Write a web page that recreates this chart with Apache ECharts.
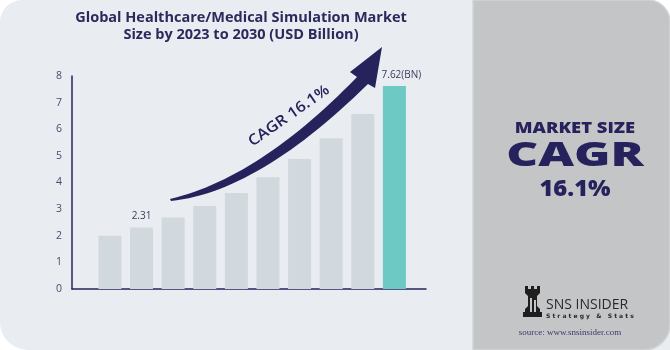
<!DOCTYPE html>
<html>
<head>
<meta charset="utf-8">
<script src="https://cdn.jsdelivr.net/npm/echarts@6/dist/echarts.min.js"></script>
<style>
html, body { margin: 0; padding: 0; background: #fff; }
#main { width: 670px; height: 350px; }
</style>
</head>
<body>
<div id="main"></div>
<script>
var years = [2021, 2022, 2023, 2024, 2025, 2026, 2027, 2028, 2029, 2030];
var sizes = [2.0, 2.31, 2.69, 3.12, 3.61, 4.2, 4.88, 5.66, 6.57, 7.62];
var barLabels = ['', '2.31', '', '', '', '', '', '', '', '7.62(BN)'];
var yTicks = [0, 1, 2, 3, 4, 5, 6, 7, 8];

var navy = '#26235c';
var font = '"Open Sans", sans-serif';

var chart = echarts.init(document.getElementById('main'));

// quadratic curve sampled into points (for the decorative arrow)
function quad(p0, c, p1, n) {
    var pts = [];
    for (var i = 0; i <= n; i++) {
        var t = i / n, a = (1 - t) * (1 - t), b = 2 * (1 - t) * t, d = t * t;
        pts.push([a * p0[0] + b * c[0] + d * p1[0], a * p0[1] + b * c[1] + d * p1[1]]);
    }
    return pts;
}
var upper = quad([170, 199], [259, 178], [357, 77], 30);
var lower = quad([368, 84], [258, 192], [171, 201], 30);
var arrowPts = upper.concat([[350, 72], [382, 47], [375, 88]], lower);

var barData = years.map(function (y, i) {
    var last = i === years.length - 1;
    return {
        value: [y, sizes[i]],
        itemStyle: { color: last ? '#6dc9c3' : '#d1d8de' },
        label: {
            show: barLabels[i] !== '',
            formatter: barLabels[i],
            offset: last ? [7, 0] : [0, 0]
        }
    };
});

var option = {
    animation: false,
    backgroundColor: 'transparent',
    title: {
        text: 'Global Healthcare/Medical Simulation Market\nSize by 2023 to 2030 (USD Billion)',
        left: 236,
        top: 4,
        textAlign: 'center',
        textStyle: {
            color: '#2b2a5c',
            fontFamily: font,
            fontWeight: 'bold',
            fontSize: 14.5,
            lineHeight: 17
        }
    },
    grid: { left: 72, right: 244, top: 76, bottom: 61 },
    xAxis: {
        type: 'value',
        min: 2019.8,
        max: 2031,
        interval: 1,
        splitLine: { show: false },
        axisTick: { show: false },
        axisLine: { show: true, lineStyle: { color: navy, width: 1.5 } },
        axisLabel: {
            color: '#4a4a6e',
            fontFamily: font,
            fontSize: 10,
            margin: 6,
            showMinLabel: false,
            showMaxLabel: false,
            formatter: function (v) {
                return years.indexOf(v) >= 0 ? String(v) : '';
            }
        }
    },
    yAxis: {
        type: 'value',
        min: yTicks[0],
        max: yTicks[yTicks.length - 1],
        interval: 1,
        splitLine: { show: false },
        axisTick: { show: false },
        axisLine: { show: true, lineStyle: { color: navy, width: 1.5 } },
        axisLabel: { color: '#4a4a6e', fontFamily: font, fontSize: 10.5, margin: 10 }
    },
    series: [{
        type: 'bar',
        barWidth: 23,
        data: barData,
        label: {
            position: 'top',
            distance: 6,
            color: '#3c3c58',
            fontFamily: font,
            fontSize: 10
        }
    }],
    graphic: [
        // panels
        { type: 'rect', z: -10, shape: { x: 0, y: 0, width: 480, height: 350, r: [22, 0, 0, 28] }, style: { fill: '#e9ecf1' } },
        { type: 'rect', z: -11, shape: { x: 600, y: 280, width: 70, height: 70 }, style: { fill: '#e9ecf1' } },
        { type: 'rect', z: -9, shape: { x: 473, y: 0, width: 197, height: 350, r: [0, 22, 26, 0] }, style: { fill: '#c4c5c7', stroke: '#d2d3d7', lineWidth: 1.5 } },
        // CAGR arrow
        { type: 'polygon', z: 5, shape: { points: arrowPts }, style: { fill: navy } },
        {
            type: 'text',
            z: 5,
            x: 289, y: 116,
            rotation: 35 * Math.PI / 180,
            scaleX: 1.1,
            style: {
                text: 'CAGR 16.1%',
                fill: navy,
                font: '600 15px "Open Sans", sans-serif',
                align: 'center',
                verticalAlign: 'middle'
            }
        },
        // right panel text
        {
            type: 'text', x: 575, y: 128, scaleX: 1.15,
            style: { text: 'MARKET SIZE', fill: navy, font: '800 16px "Open Sans", sans-serif', align: 'center', verticalAlign: 'middle' }
        },
        {
            type: 'text', x: 575, y: 156, scaleX: 1.45,
            style: { text: 'CAGR', fill: navy, font: '800 34px "Open Sans", sans-serif', align: 'center', verticalAlign: 'middle' }
        },
        {
            type: 'text', x: 575, y: 190, scaleX: 1.08,
            style: { text: '16.1%', fill: navy, font: '800 22px "Open Sans", sans-serif', align: 'center', verticalAlign: 'middle' }
        },
        // logo
        {
            type: 'polygon',
            shape: {
                points: [[525, 286], [528, 286], [528, 289], [531, 289], [531, 286], [534, 286], [534, 289], [537, 289], [537, 286], [540, 286], [540, 293], [537, 296], [537, 306], [540, 309], [540, 312], [542, 312], [542, 317], [523, 317], [523, 312], [525, 312], [525, 309], [528, 306], [528, 296], [525, 293]]
            },
            style: { fill: '#1e1e1e' }
        },
        { type: 'rect', shape: { x: 530, y: 298, width: 2, height: 14 }, style: { fill: '#c4c5c7' } },
        { type: 'rect', shape: { x: 534, y: 300, width: 2, height: 12 }, style: { fill: '#c4c5c7' } },
        {
            type: 'text', x: 546, y: 305,
            style: { text: 'SNS INSIDER', fill: '#2a2a2a', font: '14px "Open Sans", sans-serif', verticalAlign: 'middle' }
        },
        {
            type: 'text', x: 546, y: 316,
            style: { text: 'S t r a t e g y   &   S t a t s', fill: '#2a2a2a', font: 'bold 6px "DejaVu Sans", sans-serif', verticalAlign: 'middle' }
        },
        {
            type: 'text', x: 570, y: 333,
            style: { text: 'source: www.snsinsider.com', fill: '#3a3a6a', font: '9px "Liberation Serif", serif', align: 'center', verticalAlign: 'middle' }
        }
    ]
};

chart.setOption(option);
</script>
</body>
</html>
